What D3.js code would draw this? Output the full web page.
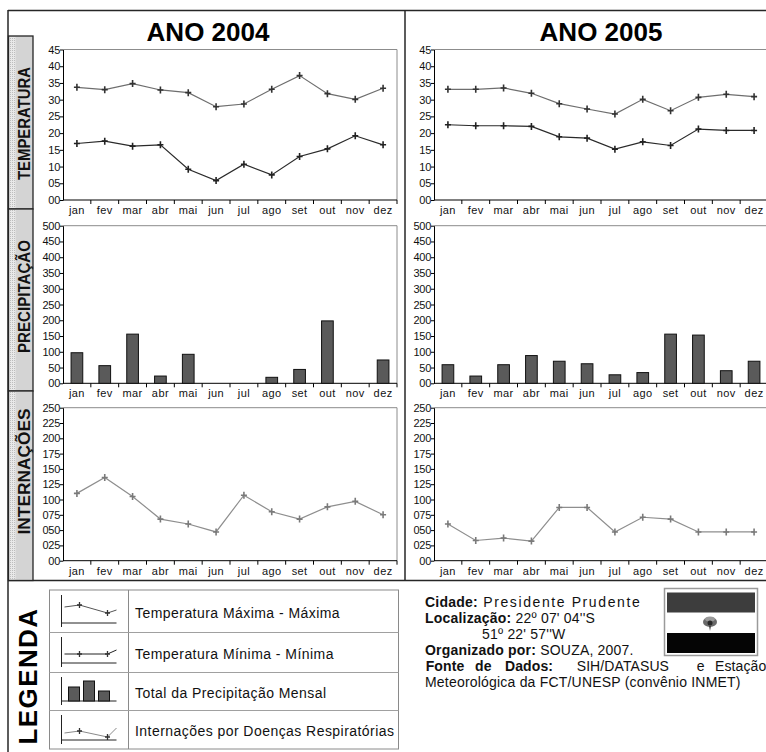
<!DOCTYPE html>
<html>
<head>
<meta charset="utf-8">
<script src="https://cdn.jsdelivr.net/npm/d3@7"></script>
<style>
  html, body { margin: 0; padding: 0; background: #fff; }
  svg { display: block; font-family: Arial, "Liberation Sans", sans-serif; }
</style>
</head>
<body>
<svg id="chart" width="766" height="752"></svg>
<script>
// Months on every category axis
const months = ["jan","fev","mar","abr","mai","jun","jul","ago","set","out","nov","dez"];

// Temperature (°C): monthly maximum of maxima and minimum of minima
const tempMax2004 = [33.7, 33.0, 34.8, 32.9, 32.1, 27.9, 28.7, 33.1, 37.2, 31.8, 30.1, 33.4];
const tempMin2004 = [16.9, 17.6, 16.1, 16.5, 9.2, 5.8, 10.7, 7.5, 13.0, 15.3, 19.2, 16.5];
const tempMax2005 = [33.1, 33.1, 33.5, 31.9, 28.8, 27.2, 25.7, 30.1, 26.7, 30.7, 31.6, 30.9];
const tempMin2005 = [22.5, 22.2, 22.2, 22.0, 18.9, 18.5, 15.2, 17.4, 16.3, 21.2, 20.8, 20.8];

// Monthly precipitation totals (mm)
const prec2004 = [97, 56, 156, 23, 92, 0, 0, 19, 44, 198, 0, 74];
const prec2005 = [59, 23, 59, 88, 70, 62, 27, 34, 156, 153, 40, 70];

// Hospital admissions for respiratory diseases
const intern2004 = [110, 136, 105, 68, 60, 47, 107, 80, 68, 88, 97, 75];
const intern2005 = [60, 33, 37, 32, 87, 87, 47, 71, 68, 47, 47, 47];

// Tick values and their printed labels
const tempTicks = [0, 5, 10, 15, 20, 25, 30, 35, 40, 45];
const tempTickLabels = ["00","05","10","15","20","25","30","35","40","45"];
const precTicks = [0, 50, 100, 150, 200, 250, 300, 350, 400, 450, 500];
const precTickLabels = ["00","50","100","150","200","250","300","350","400","450","500"];
const internTicks = [0, 25, 50, 75, 100, 125, 150, 175, 200, 225, 250];
const internTickLabels = ["00","025","050","075","100","125","150","175","200","225","250"];

const years = ["ANO 2004", "ANO 2005"];
const rowLabels = ["TEMPERATURA", "PRECIPITAÇÃO", "INTERNAÇÕES"];
const legendLabels = [
  "Temperatura Máxima - Máxima",
  "Temperatura Mínima - Mínima",
  "Total da Precipitação Mensal",
  "Internações por Doenças Respiratórias"
];

const svg = d3.select("#chart");
const frameColor = "#262626";

// ---------- layout ----------
const cols = [{x0: 63, x1: 397, title: 208}, {x0: 434, x1: 768, title: 601}];
const rows = [
  {y0: 49.5, y1: 200, max: 45, ticks: tempTicks, labels: tempTickLabels},
  {y0: 225.7, y1: 383.3, max: 500, ticks: precTicks, labels: precTickLabels},
  {y0: 407.7, y1: 560.7, max: 250, ticks: internTicks, labels: internTickLabels}
];
const rowBands = [[36, 209], [209, 391], [391, 580.5]];
const rowLabelLayout = [{c: 123.5, len: 113}, {c: 296.5, len: 113}, {c: 471.5, len: 126}];

// stipple pattern for the row-label strip
const defs = svg.append("defs");
const pat = defs.append("pattern").attr("id", "stip").attr("width", 2).attr("height", 2)
  .attr("patternUnits", "userSpaceOnUse");
pat.append("rect").attr("width", 2).attr("height", 2).attr("fill", "#e9e9e9");
pat.append("rect").attr("width", 1).attr("height", 1).attr("fill", "#bdbdbd");

// ---------- frame ----------
const frame = svg.append("g");
frame.append("line").attr("x1", 8).attr("x2", 766).attr("y1", 10.5).attr("y2", 10.5)
  .attr("stroke", frameColor).attr("stroke-width", 1.5);
frame.append("line").attr("x1", 8).attr("x2", 8).attr("y1", 10).attr("y2", 752)
  .attr("stroke", frameColor).attr("stroke-width", 1.5);
frame.append("line").attr("x1", 405).attr("x2", 405).attr("y1", 10).attr("y2", 581)
  .attr("stroke", frameColor).attr("stroke-width", 1.5);
frame.append("line").attr("x1", 8).attr("x2", 766).attr("y1", 580.5).attr("y2", 580.5)
  .attr("stroke", frameColor).attr("stroke-width", 1.5);

// row label boxes
rowBands.forEach((b, i) => {
  const g = frame.append("g");
  g.append("rect").attr("x", 8.5).attr("y", b[0]).attr("width", 24.5).attr("height", b[1] - b[0])
    .attr("fill", "#d4d4d4");
  g.append("rect").attr("x", 8.5).attr("y", b[0] + 1).attr("width", 7).attr("height", b[1] - b[0] - 2)
    .attr("fill", "url(#stip)");
  g.append("rect").attr("x", 8.5).attr("y", b[0]).attr("width", 24.5).attr("height", b[1] - b[0])
    .attr("fill", "none").attr("stroke", frameColor).attr("stroke-width", 1.3);
  g.append("text")
    .attr("transform", `translate(29.5,${rowLabelLayout[i].c}) rotate(-90)`)
    .attr("text-anchor", "middle")
    .attr("font-size", 17).attr("font-weight", "bold")
    .attr("textLength", rowLabelLayout[i].len).attr("lengthAdjust", "spacingAndGlyphs")
    .attr("fill", "#111")
    .text(rowLabels[i]);
});

// year titles
years.forEach((t, c) => {
  svg.append("text").attr("x", cols[c].title).attr("y", 40.5)
    .attr("text-anchor", "middle").attr("font-size", 26).attr("font-weight", "bold")
    .attr("fill", "#000").text(t);
});

// ---------- panels ----------
function panel(c, r) {
  const C = cols[c], R = rows[r];
  const g = svg.append("g");
  const x = d3.scaleBand().domain(months).range([C.x0, C.x1]);
  const y = d3.scaleLinear().domain([0, R.max]).range([R.y1, R.y0]);

  // plot area border (top and right)
  g.append("path")
    .attr("d", `M${C.x0},${R.y0}H${C.x1}V${R.y1}`)
    .attr("fill", "none").attr("stroke", "#8c8c8c").attr("stroke-width", 1);

  // y axis
  const ya = g.append("g").attr("transform", `translate(${C.x0},0)`)
    .call(d3.axisLeft(y).tickValues(R.ticks).tickSize(3).tickSizeOuter(0)
      .tickFormat((d, i) => R.labels[i]));
  ya.select(".domain").attr("stroke", "#000");
  ya.selectAll(".tick line").attr("stroke", "#000");
  ya.selectAll(".tick text").attr("font-family", "Arial, 'Liberation Sans', sans-serif")
    .attr("font-size", 11).attr("fill", "#111").attr("x", -3).attr("letter-spacing", -0.3);

  // x axis: ticks on category boundaries, labels at band centres
  const xa = g.append("g");
  xa.append("line").attr("x1", C.x0).attr("x2", C.x1).attr("y1", R.y1).attr("y2", R.y1)
    .attr("stroke", "#000");
  xa.selectAll("line.tk").data(months).join("line").attr("class", "tk")
    .attr("x1", d => x(d) + x.bandwidth()).attr("x2", d => x(d) + x.bandwidth())
    .attr("y1", R.y1).attr("y2", R.y1 + 4).attr("stroke", "#000");
  xa.selectAll("text").data(months).join("text")
    .attr("x", d => x(d) + x.bandwidth() / 2).attr("y", R.y1 + 14)
    .attr("text-anchor", "middle").attr("font-size", 11).attr("letter-spacing", 0.4)
    .attr("fill", "#111").text(d => d);

  return {g, x, y};
}

function lineSeries(p, values, lineColor, markColor, width) {
  const line = d3.line().x((d, i) => p.x(months[i]) + p.x.bandwidth() / 2).y(d => p.y(d));
  p.g.append("path").datum(values).attr("d", line)
    .attr("fill", "none").attr("stroke", lineColor).attr("stroke-width", width);
  p.g.selectAll(null).data(values).join("path")
    .attr("transform", (d, i) => `translate(${p.x(months[i]) + p.x.bandwidth() / 2},${p.y(d)})`)
    .attr("d", "M-3,0H3M0,-3.5V3.5")
    .attr("stroke", markColor).attr("stroke-width", 1.6).attr("fill", "none");
}

function barSeries(p, values) {
  const bw = p.x.bandwidth() * 0.42;
  p.g.selectAll(null).data(values).join("rect")
    .attr("x", (d, i) => p.x(months[i]) + (p.x.bandwidth() - bw) / 2)
    .attr("y", d => p.y(d))
    .attr("width", bw)
    .attr("height", d => p.y(0) - p.y(d))
    .attr("fill", "#5a5a5a").attr("stroke", "#111").attr("stroke-width", d => d > 0 ? 1 : 0);
}

const tempSets = [[tempMax2004, tempMin2004], [tempMax2005, tempMin2005]];
const precSets = [prec2004, prec2005];
const internSets = [intern2004, intern2005];

[0, 1].forEach(c => {
  const pt = panel(c, 0);
  lineSeries(pt, tempSets[c][0], "#6e6e6e", "#333", 1.2);
  lineSeries(pt, tempSets[c][1], "#2a2a2a", "#222", 1.2);
  const pp = panel(c, 1);
  barSeries(pp, precSets[c]);
  const pi = panel(c, 2);
  lineSeries(pi, internSets[c], "#8e8e8e", "#7a7a7a", 1.2);
});

// ---------- legend ----------
svg.append("text")
  .attr("transform", "translate(37,676) rotate(-90)")
  .attr("text-anchor", "middle").attr("font-size", 26).attr("font-weight", "bold")
  .attr("letter-spacing", 1.4).attr("fill", "#000").text("LEGENDA");

const legRows = [590, 632, 672, 710, 749];
const lx0 = 49.5, lx1 = 128.5, lx2 = 398.5;
const leg = svg.append("g");
leg.append("rect").attr("x", lx0).attr("y", legRows[0]).attr("width", lx2 - lx0)
  .attr("height", legRows[4] - legRows[0]).attr("fill", "none").attr("stroke", "#8a8a8a");
leg.append("line").attr("x1", lx1).attr("x2", lx1).attr("y1", legRows[0]).attr("y2", legRows[4])
  .attr("stroke", "#8a8a8a");
legRows.slice(1, 4).forEach(yy => {
  leg.append("line").attr("x1", lx0).attr("x2", lx2).attr("y1", yy + 0.5).attr("y2", yy + 0.5)
    .attr("stroke", "#a0a0a0");
});

// legend glyph shapes (local to each icon cell)
const iconLines = [
  {pts: [[3, 12], [18, 10], [46, 18], [55, 15]], marks: [1, 2], color: "#555"},
  {pts: [[3, 17], [18, 17], [46, 17], [55, 13]], marks: [1, 2], color: "#222"},
  null,
  {pts: [[3, 18], [18, 16], [46, 22], [55, 13]], marks: [1, 2], color: "#8a8a8a"}
];
const iconBars = [14, 20, 10];

legendLabels.forEach((lab, i) => {
  const top = legRows[i], bot = legRows[i + 1];
  const cy = (top + bot) / 2;
  const ig = leg.append("g").attr("transform", `translate(61.5,${top + 5})`);
  const h = bot - top - 10;
  ig.append("line").attr("x1", 0).attr("x2", 0).attr("y1", 0).attr("y2", h).attr("stroke", "#222");
  ig.append("line").attr("x1", 0).attr("x2", 55).attr("y1", h - 4).attr("y2", h - 4).attr("stroke", "#222");
  if (iconLines[i]) {
    const L = iconLines[i];
    ig.append("path").attr("d", d3.line()(L.pts)).attr("fill", "none")
      .attr("stroke", L.color).attr("stroke-width", 1);
    L.marks.forEach(k => {
      ig.append("path").attr("transform", `translate(${L.pts[k][0]},${L.pts[k][1]})`)
        .attr("d", "M-2.5,0H2.5M0,-3V3").attr("stroke", "#333").attr("stroke-width", 1.3);
    });
  } else {
    iconBars.forEach((bh, k) => {
      ig.append("rect").attr("x", 7 + k * 15).attr("y", h - 4 - bh).attr("width", 11).attr("height", bh)
        .attr("fill", "#5a5a5a").attr("stroke", "#111");
    });
  }
  leg.append("text").attr("x", 135).attr("y", cy + 6.5).attr("font-size", 14)
    .attr("letter-spacing", 0.45).attr("fill", "#111").text(lab);
});

// ---------- station info ----------
const info = svg.append("g").attr("font-size", 14).attr("fill", "#111");
function infoLine(yb, bold, rest, x0, restSpacing) {
  const t = info.append("text").attr("x", x0 || 425).attr("y", yb).attr("letter-spacing", 0.2);
  if (bold) t.append("tspan").attr("font-weight", "bold").text(bold);
  if (rest) {
    const r = t.append("tspan").text(rest);
    if (restSpacing) r.attr("letter-spacing", restSpacing);
  }
}
infoLine(607, "Cidade:", " Presidente Prudente", null, 1.6);
infoLine(623, "Localização:", " 22º 07' 04''S");
infoLine(639, null, "51º 22' 57''W", 482);
infoLine(655, "Organizado por:", " SOUZA, 2007.");
// justified line, word by word
const fWords = [["Fonte", true, 425.7], ["de", true, 475], ["Dados:", true, 505],
                ["SIH/DATASUS", false, 576.7], ["e", false, 696.7], ["Estação", false, 715]];
fWords.forEach(w => {
  info.append("text").attr("x", w[2]).attr("y", 671).attr("letter-spacing", 0.1)
    .attr("font-weight", w[1] ? "bold" : "normal").text(w[0]);
});
infoLine(687, null, "Meteorológica da FCT/UNESP (convênio INMET)");

// ---------- municipal flag ----------
const fl = svg.append("g");
fl.append("rect").attr("x", 664.5).attr("y", 588.5).attr("width", 93).attr("height", 67)
  .attr("fill", "#fff").attr("stroke", "#9a9a9a").attr("stroke-width", 1.5);
fl.append("rect").attr("x", 667).attr("y", 592.5).attr("width", 88).attr("height", 20).attr("fill", "#3d3d3d");
fl.append("rect").attr("x", 667).attr("y", 633).attr("width", 88).attr("height", 20).attr("fill", "#050505");
const em = fl.append("g").attr("transform", "translate(710,622)");
em.append("ellipse").attr("rx", 7).attr("ry", 5).attr("fill", "#6a6a6a");
em.append("ellipse").attr("cx", 0).attr("cy", -3).attr("rx", 5).attr("ry", 2.5).attr("fill", "#9a9a9a");
em.append("path").attr("d", "M-1,4L0,9L1,4Z").attr("fill", "#444");
em.append("circle").attr("cx", 0).attr("cy", 1).attr("r", 2.5).attr("fill", "#2a2a2a");
</script>
</body>
</html>
